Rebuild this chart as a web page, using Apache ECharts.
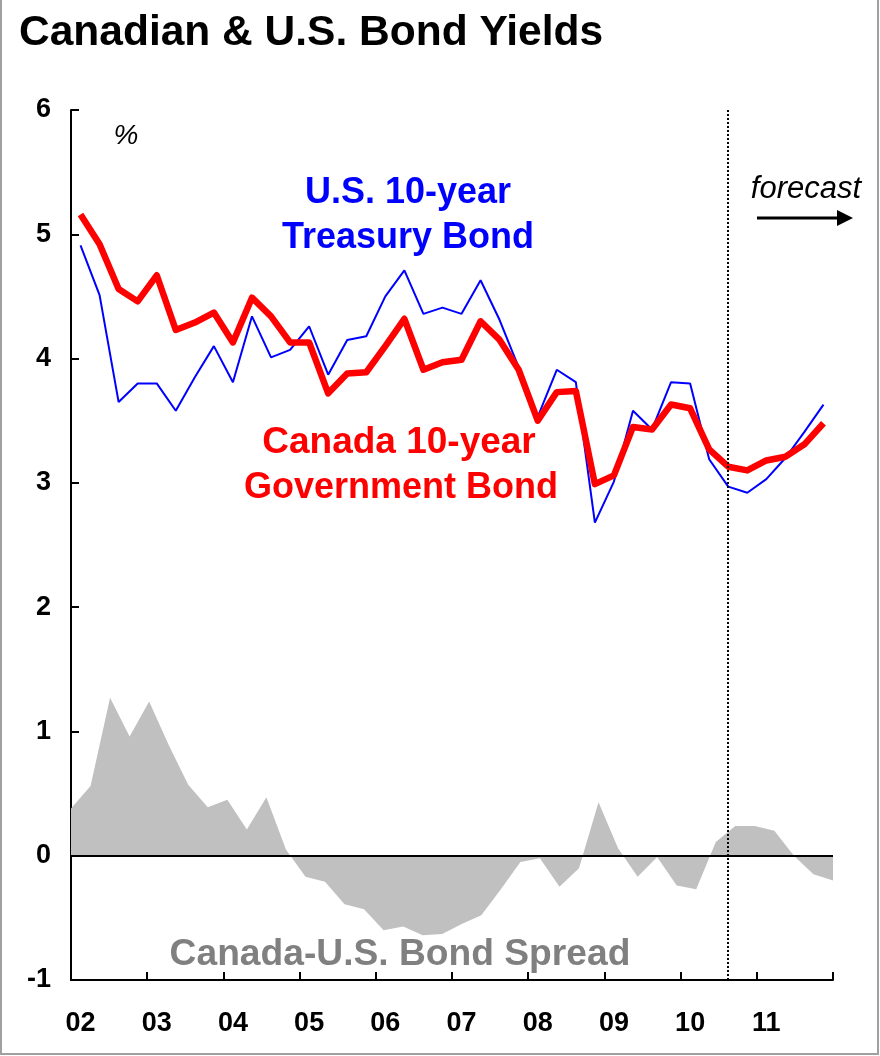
<!DOCTYPE html>
<html>
<head>
<meta charset="utf-8">
<script src="https://cdn.jsdelivr.net/npm/echarts@6/dist/echarts.min.js"></script>
<style>
html,body{margin:0;padding:0;background:#fff;}
#chart{width:880px;height:1056px;}
</style>
</head>
<body>
<div id="chart"></div>
<script>
// ---- data ----
const years = ['02','03','04','05','06','07','08','09','10','11'];
const quarters = ['Q1','Q2','Q3','Q4'];
const yTicks = [-1, 0, 1, 2, 3, 4, 5, 6];
const forecastStart = '10Q3';

const canada10y = [5.16,4.92,4.56,4.46,4.67,4.23,4.29,4.37,4.13,4.49,
                   4.34,4.13,4.13,3.72,3.88,3.89,4.10,4.32,3.91,3.97,
                   3.99,4.30,4.15,3.91,3.50,3.73,3.74,2.99,3.06,3.45,
                   3.43,3.63,3.60,3.27,3.13,3.10,3.18,3.21,3.31,3.48];
const us10y = [4.91,4.51,3.65,3.80,3.80,3.58,3.85,4.10,3.81,4.34,
               4.01,4.07,4.26,3.87,4.15,4.18,4.50,4.71,4.36,4.41,
               4.36,4.63,4.31,3.93,3.53,3.91,3.81,2.68,3.01,3.58,
               3.43,3.81,3.80,3.19,2.97,2.92,3.03,3.20,3.41,3.63];
const spread = [0.38,0.56,1.27,0.96,1.24,0.89,0.57,0.39,0.45,0.21,
                0.47,0.05,-0.17,-0.21,-0.39,-0.43,-0.60,-0.57,-0.64,-0.63,
                -0.55,-0.48,-0.27,-0.05,-0.02,-0.25,-0.10,0.43,0.06,-0.17,
                -0.01,-0.24,-0.27,0.11,0.24,0.24,0.20,0.00,-0.15,-0.20];

const categories = [];
years.forEach(y => quarters.forEach(q => categories.push(y + q)));

const FONT = '"Liberation Sans", Arial, Helvetica, sans-serif';

const chart = echarts.init(document.getElementById('chart'), null, {renderer: 'canvas'});

const option = {
  animation: false,
  backgroundColor: '#ffffff',
  textStyle: {fontFamily: FONT},
  grid: {left: 71, right: 47, top: 110, bottom: 76, containLabel: false},
  xAxis: [
    {
      type: 'category',
      data: categories,
      boundaryGap: true,
      position: 'bottom',
      axisLine: {onZero: false, lineStyle: {color: '#000', width: 2}},
      axisTick: {
        show: true, inside: true, length: 8, alignWithLabel: false,
        interval: (idx) => idx % 4 === 0,
        lineStyle: {color: '#000', width: 2}
      },
      axisLabel: {
        interval: (idx) => idx % 4 === 0,
        formatter: (v) => v.slice(0, 2),
        fontFamily: FONT, fontWeight: 'bold', fontSize: 27, color: '#000', margin: 30
      },
      splitLine: {show: false}
    },
    {
      type: 'category',
      data: categories,
      boundaryGap: false,
      show: false
    }
  ],
  yAxis: {
    type: 'value',
    min: yTicks[0],
    max: yTicks[yTicks.length - 1],
    interval: 1,
    axisLine: {show: true, lineStyle: {color: '#000', width: 2}},
    axisTick: {show: true, inside: true, length: 8, lineStyle: {color: '#000', width: 2}},
    axisLabel: {fontFamily: FONT, fontWeight: 'bold', fontSize: 27, color: '#000', margin: 20},
    splitLine: {show: false}
  },
  series: [
    {
      name: 'Canada-U.S. Bond Spread',
      type: 'line',
      xAxisIndex: 1,
      data: spread,
      symbol: 'none',
      lineStyle: {width: 0, opacity: 0},
      areaStyle: {color: '#c0c0c0', opacity: 1},
      z: 1,
      markLine: {
        silent: true,
        symbol: ['none', 'none'],
        label: {show: false},
        lineStyle: {color: '#000', width: 2, type: 'solid'},
        data: [{yAxis: 0}]
      }
    },
    {
      name: 'U.S. 10-year Treasury Bond',
      type: 'line',
      xAxisIndex: 0,
      data: us10y,
      symbol: 'none',
      lineStyle: {color: '#0000ff', width: 2},
      z: 3
    },
    {
      name: 'Canada 10-year Government Bond',
      type: 'line',
      xAxisIndex: 0,
      data: canada10y,
      symbol: 'none',
      lineStyle: {color: '#ff0000', width: 6.5, join: 'round'},
      z: 4,
      markLine: {
        silent: true,
        symbol: ['none', 'none'],
        label: {show: false},
        lineStyle: {color: '#000', width: 2, type: [2, 2]},
        data: [{xAxis: forecastStart}]
      }
    }
  ],
  graphic: [
    {type: 'rect', shape: {x: 1, y: -5, width: 877, height: 1059},
     style: {fill: 'none', stroke: '#a0a0a0', lineWidth: 2}, z: 100},
    {type: 'text', x: 19, y: 33,
     style: {text: 'Canadian & U.S. Bond Yields', font: 'bold 42.5px ' + FONT, fill: '#000', textAlign: 'left', textVerticalAlign: 'middle'}},
    {type: 'text', x: 126, y: 136,
     style: {text: '%', font: 'italic 28px ' + FONT, fill: '#000', textAlign: 'center', textVerticalAlign: 'middle'}},
    {type: 'text', x: 408, y: 193,
     style: {text: 'U.S. 10-year', font: 'bold 36px ' + FONT, fill: '#0000ff', textAlign: 'center', textVerticalAlign: 'middle'}},
    {type: 'text', x: 408, y: 238,
     style: {text: 'Treasury Bond', font: 'bold 36px ' + FONT, fill: '#0000ff', textAlign: 'center', textVerticalAlign: 'middle'}},
    {type: 'text', x: 399, y: 443,
     style: {text: 'Canada 10-year', font: 'bold 37px ' + FONT, fill: '#ff0000', textAlign: 'center', textVerticalAlign: 'middle'}},
    {type: 'text', x: 401, y: 488,
     style: {text: 'Government Bond', font: 'bold 36px ' + FONT, fill: '#ff0000', textAlign: 'center', textVerticalAlign: 'middle'}},
    {type: 'text', x: 400, y: 955,
     style: {text: 'Canada-U.S. Bond Spread', font: 'bold 37.2px ' + FONT, fill: '#808080', textAlign: 'center', textVerticalAlign: 'middle'}},
    {type: 'text', x: 806, y: 189,
     style: {text: 'forecast', font: 'italic 31px ' + FONT, fill: '#000', textAlign: 'center', textVerticalAlign: 'middle'}},
    {type: 'line', shape: {x1: 757, y1: 218, x2: 840, y2: 218},
     style: {stroke: '#000', lineWidth: 3}},
    {type: 'polygon', shape: {points: [[853, 218], [837, 210], [837, 226]]},
     style: {fill: '#000'}}
  ]
};

chart.setOption(option);
</script>
</body>
</html>
